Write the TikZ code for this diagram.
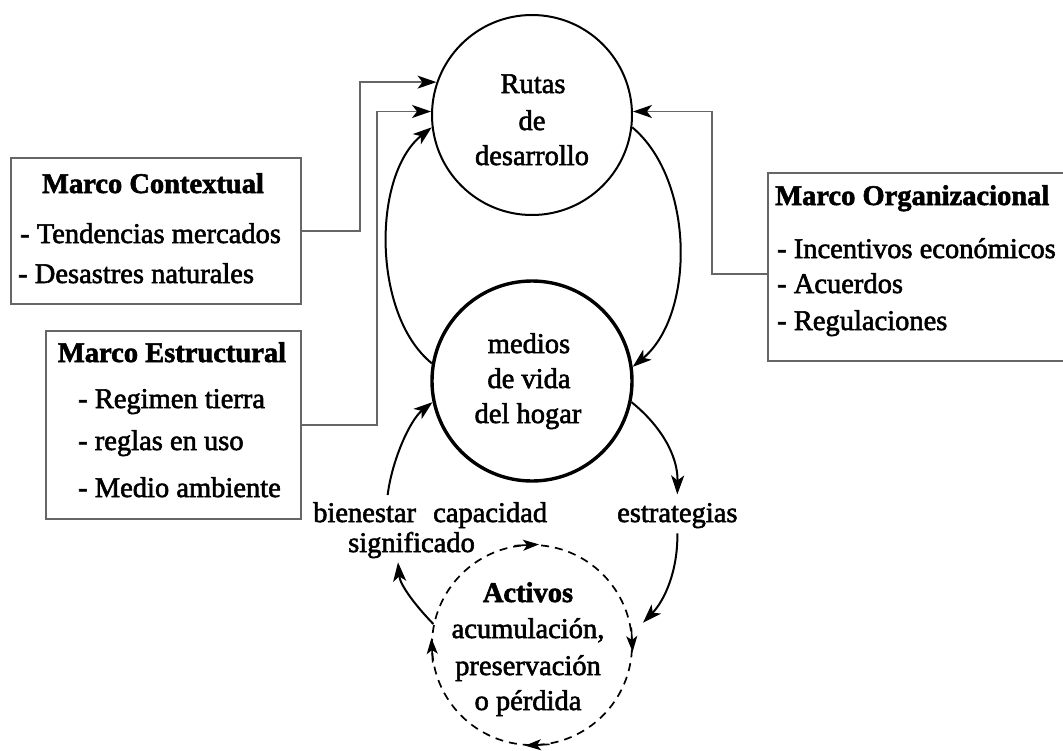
\documentclass[tikz,border=0pt]{standalone}
\usepackage{fontspec}
\setmainfont{Liberation Serif}
\newfontfamily\heavy{Liberation Serif}[FakeBold=2]
\usetikzlibrary{arrows.meta}
\begin{document}
\begin{tikzpicture}[x=1pt,y=-1pt,
  txt/.style={inner sep=0pt, font=\heavy\fontsize{28.5}{34}\selectfont},
  ttl/.style={inner sep=0pt, font=\heavy\fontsize{28.5}{34}\selectfont\bfseries},
  box/.style={draw=black!60, line width=1.8pt, rectangle, inner sep=0pt, anchor=north west},
  conn/.style={draw=black!60, line width=1.8pt, -{Stealth[length=19pt,width=13pt,inset=5pt,color=black]}},
  flow/.style={line width=2pt, -{Stealth[length=19pt,width=13pt,inset=5pt]}},
  small/.style={line width=1.6pt, -{Stealth[length=16pt,width=11pt,inset=4pt]}},
  circ/.style={draw, circle, minimum size=200pt, inner sep=0pt}]
\fill[white] (0,0) rectangle (1063,750);
\clip (0,0) rectangle (1063,750);

% circles
\node[circ, line width=2pt] (rutas) at (532,115) {};
\node[circ, line width=3.4pt] (medios) at (532,381) {};
\node[circ, line width=1.7pt, dash pattern=on 8pt off 6pt] (act) at (532,645) {};

% circle texts
\node[txt, anchor=base] (r1) at (533,93) {Rutas};
\node[txt, anchor=base] (r2) at (532,130) {de};
\node[txt, anchor=base] (r3) at (532,165) {desarrollo};
\node[txt, anchor=base] (m1) at (529,353) {medios};
\node[txt, anchor=base] (m2) at (529,388) {de vida};
\node[txt, anchor=base] (m3) at (528,423) {del hogar};
\node[ttl, anchor=base] (a1) at (528,602) {Activos};
\node[txt, anchor=base] (a2) at (528,638) {acumulación,};
\node[txt, anchor=base] (a3) at (528,675) {preservación};
\node[txt, anchor=base] (a4) at (528,710) {o pérdida};

% labels
\node[txt, anchor=base west] (bien) at (313,522) {bienestar};
\node[txt, anchor=base west] (cap) at (433,522) {capacidad};
\node[txt, anchor=base west] (signif) at (348,552) {significado};
\node[txt, anchor=base west] (estr) at (617,522) {estrategias};

% boxes
\node[box, minimum width=290pt, minimum height=146pt] (ctx) at (10,157) {};
\node[box, minimum width=255pt, minimum height=188pt] (est) at (45,330) {};
\node[box, minimum width=303pt, minimum height=188pt] (org) at (767,172) {};

\node[ttl, anchor=base] (ctxT) at (153,193) {Marco Contextual};
\node[txt, anchor=base west] (ctx1) at (20,243) {- Tendencias mercados};
\node[txt, anchor=base west] (ctx2) at (18,283) {- Desastres naturales};

\node[ttl, anchor=base] (estT) at (172,362) {Marco Estructural};
\node[txt, anchor=base west] (est1) at (78,408) {- Regimen tierra};
\node[txt, anchor=base west] (est2) at (78,450) {- reglas en uso};
\node[txt, anchor=base west] (est3) at (78,497) {- Medio ambiente};

\node[ttl, anchor=base west] (orgT) at (775,205) {Marco Organizacional};
\node[txt, anchor=base west] (org1) at (777,258) {- Incentivos económicos};
\node[txt, anchor=base west] (org2) at (777,293) {- Acuerdos};
\node[txt, anchor=base west] (org3) at (777,330) {- Regulaciones};

% connectors from frames
\draw[conn] (ctx.east) -- ++(58,0) |- (rutas.161);
\draw[conn] (est.east) -- ++(75,0) |- (rutas.178);
\draw[conn] ([yshift=-7pt]org.west) -- ++(-55,0) |- (rutas.2);

% main loop
\draw[flow] (medios.170) .. controls (372,315) and (372,175) .. (rutas.187);
\draw[flow] (rutas.-7) .. controls (695,180) and (695,315) .. (medios.8);

% lower loop
\draw[flow] (medios.-12) .. controls (660,425) and (678,455) .. ([yshift=8.5pt]estr.north);
\draw[flow] ([yshift=-5pt]estr.south) .. controls (678,570) and (665,600) .. ([shift={(12pt,3pt)}]act.11);
\draw[flow] ([xshift=23pt,yshift=7pt]bien.north) .. controls (392,460) and (410,420) .. (medios.192);
\draw[flow] (act.168) .. controls (415,605) and (400,585) .. ([xshift=-13.5pt,yshift=-4pt]signif.south);

% arrows on dashed circle (clockwise)
\draw[small] (act.100) -- (act.86);
\draw[small] (act.10) -- (act.-4);
\draw[small] (act.-80) -- (act.-94);
\draw[small] (act.190) -- (act.176);
\end{tikzpicture}
\end{document}
